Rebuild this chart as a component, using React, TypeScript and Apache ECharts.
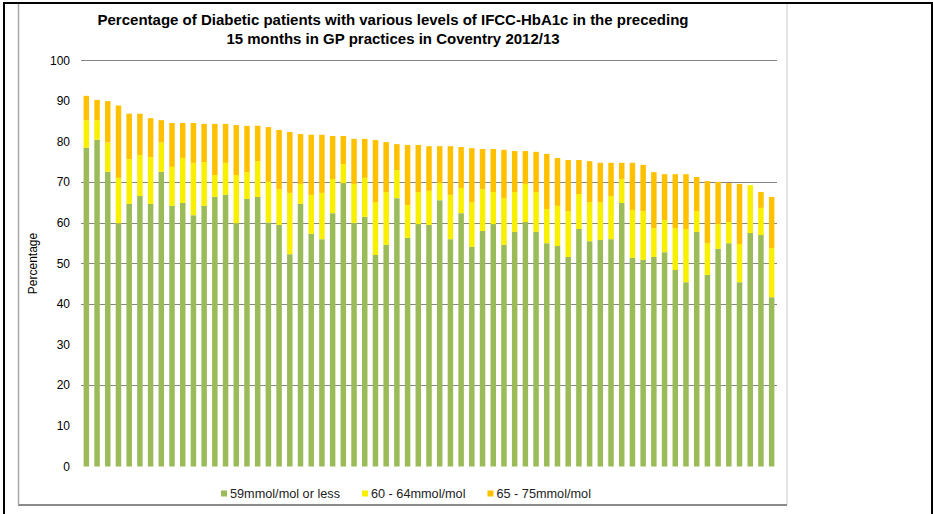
import React, { useEffect, useRef } from "react";
import * as echarts from "echarts";

const titleLines = [
  "Percentage of Diabetic patients with various levels of IFCC-HbA1c in the preceding",
  "15 months in GP practices in Coventry 2012/13",
];

const seriesNames = ["59mmol/mol or less", "60 - 64mmol/mol", "65 - 75mmol/mol"];

const practices = Array.from({ length: 65 }, (_, i) => `Practice ${i + 1}`);

const le59 = [
  78.5, 80.5, 72.6, 59.9, 64.7, 66.6, 64.7, 72.6, 64.2, 64.9, 61.9, 64.2, 66.4, 66.9, 59.9, 65.9,
  66.4, 60.1, 59.5, 52.3, 64.7, 57.3, 56.0, 62.4, 69.8, 60.0, 61.5, 52.1, 54.6, 66.1, 56.3, 59.7,
  59.5, 65.6, 56.0, 62.4, 54.1, 58.0, 59.7, 54.6, 57.8, 60.2, 57.8, 55.0, 54.3, 51.6, 58.5, 55.5,
  55.8, 56.0, 64.9, 51.4, 50.9, 51.6, 52.8, 48.4, 45.4, 57.8, 47.2, 53.6, 55.0, 45.4, 57.5, 57.0,
  41.7,
];

const r60to64 = [
  6.8, 4.8, 7.2, 11.2, 11.0, 10.1, 11.5, 7.2, 9.6, 11.1, 12.9, 10.8, 5.4, 7.9, 11.9, 6.6,
  8.8, 10.0, 8.8, 15.1, 4.9, 9.6, 11.4, 8.4, 4.7, 9.6, 9.6, 13.0, 13.0, 6.9, 8.1, 7.9,
  8.4, 4.2, 10.9, 6.2, 11.0, 10.3, 7.9, 11.5, 9.8, 9.4, 9.8, 8.4, 9.9, 11.3, 8.6, 9.6,
  9.3, 10.6, 5.9, 11.8, 12.0, 7.1, 7.9, 10.3, 13.1, 5.1, 7.8, 6.1, 5.2, 9.4, 11.8, 6.7,
  12.1,
];

const r65to75 = [
  6.0, 5.0, 10.2, 17.8, 11.2, 10.2, 9.6, 5.5, 10.8, 8.6, 9.8, 9.4, 12.6, 9.6, 12.3, 11.4,
  8.7, 13.5, 14.6, 15.0, 12.3, 14.8, 14.3, 10.6, 6.9, 11.1, 9.6, 15.3, 12.3, 6.4, 14.8, 11.6,
  11.0, 9.1, 12.0, 10.1, 13.3, 9.9, 10.6, 11.9, 10.1, 8.1, 9.9, 13.6, 11.8, 12.6, 8.4, 10.1,
  9.7, 8.2, 4.0, 11.6, 11.4, 13.8, 11.3, 13.3, 13.5, 8.4, 15.3, 10.4, 9.6, 14.8, 0, 3.9,
  12.6,
];

const yTicks = [0, 10, 20, 30, 40, 50, 60, 70, 80, 90, 100];
const visibleGridTicks = [20, 40, 50, 60, 70, 100];

const colors = ["#9BBB59", "#F8F000", "#FFC000"];

export default function App() {
  const ref = useRef<HTMLDivElement>(null);

  useEffect(() => {
    if (!ref.current) return;
    const chart = echarts.init(ref.current, undefined, { renderer: "svg" });
    const font = "'Liberation Sans', Arial, sans-serif";
    const gridColors = yTicks.map((t) => (visibleGridTicks.includes(t) ? "#858585" : "rgba(0,0,0,0)"));

    const mkSeries = (name: string, data: number[], color: string) => ({
      name,
      type: "bar",
      stack: "total",
      data,
      barWidth: 5.5,
      itemStyle: { color },
      emphasis: { disabled: true },
    });

    chart.setOption({
      animation: false,
      backgroundColor: "#ffffff",
      textStyle: { fontFamily: font },
      color: colors,
      grid: { left: 81, right: 156, top: 60.5, bottom: 47.5, containLabel: false },
      legend: {
        left: 216,
        top: 482,
        itemWidth: 6,
        itemHeight: 6,
        itemGap: 22,
        icon: "rect",
        textStyle: { fontSize: 12.7, color: "#222", fontFamily: font, padding: [0, 0, 0, -2] },
        data: seriesNames,
      },
      xAxis: {
        type: "category",
        data: practices,
        axisLine: { show: false },
        axisTick: { show: false },
        axisLabel: { show: false },
        splitLine: { show: false },
      },
      yAxis: {
        type: "value",
        min: 0,
        max: 100,
        interval: 10,
        name: "Percentage",
        nameLocation: "middle",
        nameRotate: 90,
        nameGap: 32,
        nameTextStyle: { fontSize: 12, color: "#000", fontFamily: font },
        axisLine: { show: false },
        axisTick: { show: false },
        axisLabel: { fontSize: 12, color: "#000", margin: 11, fontFamily: font },
        splitLine: {
          show: true,
          showMinLine: true,
          showMaxLine: true,
          lineStyle: { color: gridColors, width: 1.2 },
        },
      },
      graphic: [
        {
          type: "rect",
          shape: { x: 18.5, y: 3, width: 768.5, height: 502 },
          style: { fill: "none", stroke: "#c8c8c8", lineWidth: 1 },
          silent: true,
        },
        {
          type: "line",
          shape: { x1: 18, y1: 505, x2: 787, y2: 505 },
          style: { stroke: "#8a8a8a", lineWidth: 2 },
          silent: true,
        },
        {
          type: "line",
          shape: { x1: 18.5, y1: 3, x2: 18.5, y2: 505 },
          style: { stroke: "#a8a8a8", lineWidth: 1.5 },
          silent: true,
        },
        { type: "rect", shape: { x: 3, y: 2, width: 930, height: 2 }, style: { fill: "#000" }, silent: true },
        { type: "rect", shape: { x: 3, y: 2, width: 2, height: 512 }, style: { fill: "#000" }, silent: true },
        { type: "rect", shape: { x: 931, y: 2, width: 2, height: 512 }, style: { fill: "#000" }, silent: true },
        {
          type: "text",
          x: 393,
          y: 19,
          style: {
            text: titleLines[0],
            font: `bold 15px ${font}`,
            fill: "#000",
            align: "center",
            verticalAlign: "middle",
          },
          silent: true,
        },
        {
          type: "text",
          x: 393,
          y: 38,
          style: {
            text: titleLines[1],
            font: `bold 15px ${font}`,
            fill: "#000",
            align: "center",
            verticalAlign: "middle",
          },
          silent: true,
        },
      ],
      series: [
        mkSeries(seriesNames[0], le59, colors[0]),
        mkSeries(seriesNames[1], r60to64, colors[1]),
        mkSeries(seriesNames[2], r65to75, colors[2]),
      ],
    });

    return () => chart.dispose();
  }, []);

  return (
    <div
      ref={ref}
      style={{ position: "absolute", left: 0, top: 0, width: 933, height: 514, background: "#fff" }}
    />
  );
}
